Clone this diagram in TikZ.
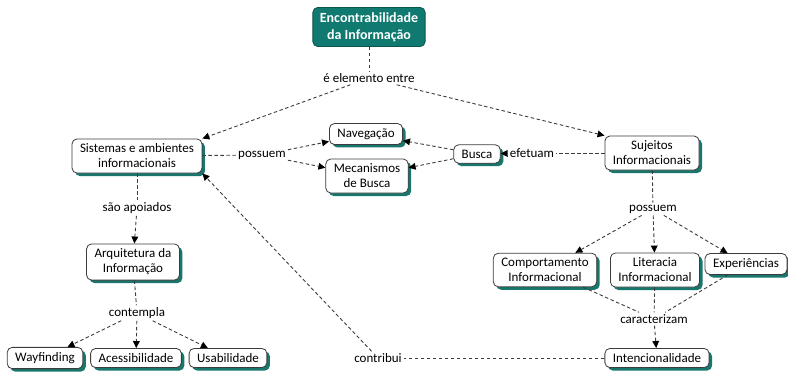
\documentclass[tikz,border=0pt]{standalone}
\usepackage{fontspec}
\setmainfont{Carlito}
\usetikzlibrary{arrows.meta,shadows,positioning}
\definecolor{cmapteal}{RGB}{16,122,112}
\definecolor{cmapshade}{RGB}{24,118,108}
\definecolor{cmapline}{RGB}{60,60,60}
\tikzset{
>={Triangle[length=7pt,width=7pt]},
  concept/.style={
    rectangle,
    rounded corners=5pt,
    draw=cmapline, thick,
    fill=white,
    align=center,
    inner xsep=8pt, inner ysep=5pt,
    font=\fontsize{13}{15}\selectfont,
    drop shadow={shadow xshift=3pt, shadow yshift=-3pt,
      fill=cmapshade, opacity=1}},
  topic/.style={
    rectangle,
    rounded corners=5pt,
    fill=cmapteal,
    draw=cmapteal!70!black, thick,
    text=white,
    align=center,
    font=\fontsize{14}{17}\selectfont\bfseries,
    inner ysep=5pt, inner xsep=7pt},
  linkword/.style={
    inner sep=2pt,
    font=\fontsize{13}{15}\selectfont},
}

\begin{document}
\begin{tikzpicture}[
    x=1pt, y=-1pt,
    link/.style={draw=cmapline, line width=0.9pt, dash pattern=on 3.5pt off 2.5pt},
    arrow/.style={link, -{Triangle[length=7pt,width=7pt,fill=black,line width=0pt]}}
    ]
    \useasboundingbox (0,0) rectangle (788,376);

    %concepts
    \node[topic] (encontr) at (369,27) {Encontrabilidade\\da Informação};
    \node[concept] (sistemas) at (137,156) {Sistemas e ambientes\\informacionais};
    \node[concept] (naveg) at (366,134) {Navegação};
    \node[concept] (mecan) at (367,176) {Mecanismos\\de Busca};
    \node[concept] (busca) at (477,154) {Busca};
    \node[concept] (sujeitos) at (652,153) {Sujeitos\\Informacionais};
    \node[concept] (arquit) at (133,262) {Arquitetura da\\Informação};
    \node[concept] (wayf) at (45,358) {Wayfinding};
    \node[concept] (acess) at (136,358) {Acessibilidade};
    \node[concept] (usab) at (228,358) {Usabilidade};
    \node[concept] (comport) at (545,270) {Comportamento\\Informacional};
    \node[concept] (literac) at (655,270) {Literacia\\Informacional};
    \node[concept] (exper) at (746,264) {Experiências};
    \node[concept] (intenc) at (657,358) {Intencionalidade};

    %linking words
    \node[linkword] (entre) at (369,78) {é elemento entre};
    \node[linkword] (possuemA) at (262,155) {possuem};
    \node[linkword] (efetuam) at (532,153) {efetuam};
    \node[linkword] (apoiados) at (137,208) {são apoiados};
    \node[linkword] (contempla) at (137,313) {contempla};
    \node[linkword] (possuemB) at (653,209) {possuem};
    \node[linkword] (caract) at (654,319) {caracterizam};
    \node[linkword] (contribui) at (378,358) {contribui};

    %links
    \draw[link] (encontr) -- (entre);
    \draw[arrow] (entre) -- (sistemas.north east);
    \draw[arrow] (entre) -- (sujeitos.north west);

    \draw[link] (sistemas) -- (possuemA);
    \draw[arrow] (possuemA) -- (naveg);
    \draw[arrow] (possuemA) -- (mecan);

    \draw[arrow] (busca) -- (naveg);
    \draw[arrow] (busca) -- (mecan);
    \draw[link] (sujeitos) -- (efetuam);
    \draw[arrow] (efetuam) -- (busca);

    \draw[link] (sistemas) -- (apoiados);
    \draw[arrow] (apoiados) -- (arquit);
    \draw[link] (arquit) -- (contempla);
    \draw[arrow] (contempla) -- (wayf);
    \draw[arrow] (contempla) -- (acess);
    \draw[arrow] (contempla) -- (usab);

    \draw[link] (sujeitos) -- (possuemB);
    \draw[arrow] (possuemB) -- (comport);
    \draw[arrow] (possuemB) -- (literac);
    \draw[arrow] (possuemB) -- (exper);

    \draw[link] (comport) -- (caract);
    \draw[link] (literac) -- (caract);
    \draw[link] (exper) -- (caract);
    \draw[arrow] (caract) -- (intenc);

    \draw[link] (intenc) -- (contribui);
    \draw[arrow] (contribui) -- (sistemas.south east);
\end{tikzpicture}
\end{document}
